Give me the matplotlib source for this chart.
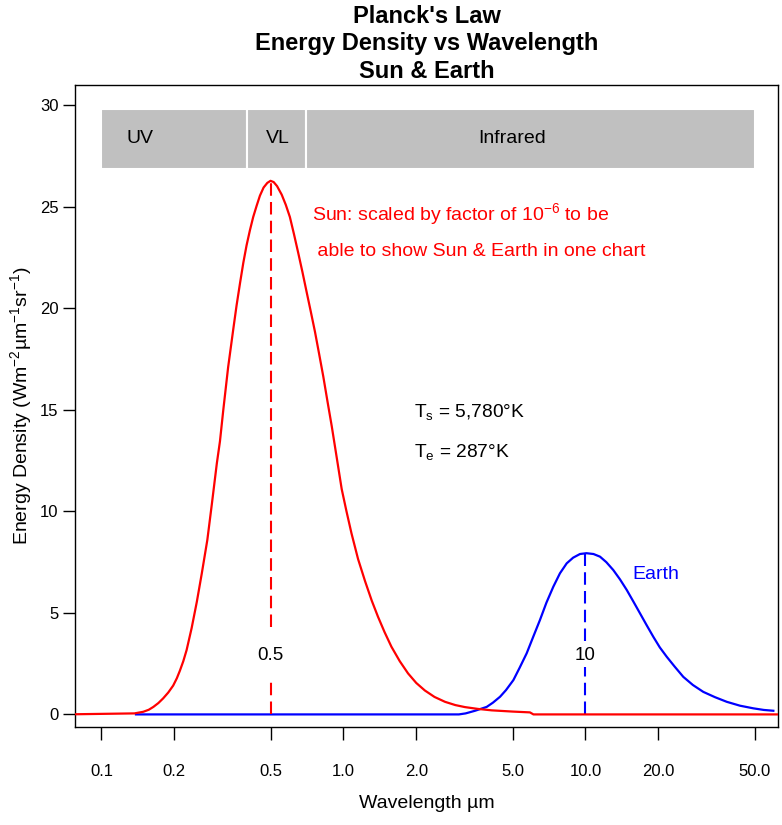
import matplotlib
matplotlib.use("Agg")
import matplotlib.pyplot as plt
from matplotlib.patches import Rectangle
from matplotlib.ticker import NullLocator

plt.rcParams['font.family'] = ['Liberation Sans', 'DejaVu Sans']
plt.rcParams['mathtext.fontset'] = 'custom'
plt.rcParams['mathtext.rm'] = 'Liberation Sans'
plt.rcParams['mathtext.it'] = 'Liberation Sans:italic'
plt.rcParams['mathtext.bf'] = 'Liberation Sans:bold'

# ---------------- data ----------------
sun_wl = [0.07, 0.137, 0.149, 0.157, 0.164, 0.172, 0.180, 0.189, 0.198, 0.205, 0.211,
          0.218, 0.225, 0.236, 0.248, 0.260, 0.274, 0.286, 0.300, 0.309, 0.319,
          0.334, 0.351, 0.362, 0.374, 0.386, 0.398, 0.411, 0.424, 0.438, 0.452,
          0.468, 0.485, 0.50, 0.515, 0.532, 0.556, 0.578, 0.601, 0.625, 0.651,
          0.677, 0.705, 0.733, 0.763, 0.794, 0.826, 0.860, 0.895, 0.940, 0.984,
          1.03, 1.08, 1.15, 1.23, 1.31, 1.39, 1.48, 1.58, 1.71, 1.85, 2.00, 2.17,
          2.38, 2.63, 2.90, 3.18, 3.60, 4.10, 5.0, 5.9, 6.1, 65]
sun_ed = [0, 0.05, 0.13, 0.23, 0.37, 0.56, 0.79, 1.08, 1.42, 1.78, 2.15,
          2.62, 3.17, 4.25, 5.55, 6.95, 8.59, 10.35, 12.37, 13.45, 15.0,
          17.1, 19.0, 20.15, 21.24, 22.25, 23.1, 23.85, 24.5, 25.05, 25.55,
          25.95, 26.18, 26.28, 26.22, 26.02, 25.6, 25.1, 24.5, 23.65, 22.72,
          21.8, 20.8, 19.85, 18.85, 17.75, 16.64, 15.4, 14.2, 12.6, 11.1,
          10.0, 8.92, 7.65, 6.55, 5.6, 4.81, 4.05, 3.33, 2.62, 2.02, 1.55, 1.18,
          0.86, 0.62, 0.46, 0.36, 0.27, 0.2, 0.14, 0.1, 0.0, 0.0]

earth_wl = [0.139, 3.0, 3.2, 3.5, 3.91, 4.15, 4.44, 4.7, 5.04, 5.35, 5.72, 6.1,
            6.49, 6.9, 7.37, 7.85, 8.37, 8.9, 9.50, 10.1, 10.8, 11.49, 12.2,
            13.04, 13.9, 14.82, 15.8, 16.81, 17.9, 19.09, 20.3, 21.68, 23.4,
            25.38, 27.8, 30.7, 34.3, 38.4, 43.5, 49.4, 54.6, 59.8]
earth_ed = [0, 0.0, 0.05, 0.18, 0.37, 0.58, 0.87, 1.2, 1.69, 2.3, 3.01, 3.85,
            4.65, 5.5, 6.29, 6.95, 7.44, 7.72, 7.90, 7.94, 7.9, 7.77, 7.5,
            7.11, 6.65, 6.13, 5.55, 4.98, 4.4, 3.82, 3.3, 2.84, 2.35,
            1.85, 1.45, 1.11, 0.85, 0.62, 0.43, 0.30, 0.22, 0.18]

peak_wl = [0.5, 10]
peak_val = [26.28, 7.94]
peak_labels = ['0.5', '10']
peak_gap_low = [1.85, 2.35]
peak_gap_high = [4.3, 3.6]
peak_colors = ['#ff0000', '#0000ff']

band_start = [0.1, 0.4, 0.7]
band_end = [0.4, 0.7, 50]
band_names = ['UV', 'VL', 'Infrared']
band_label_x = [0.145, 0.537, 5.0]

xticks = [0.1, 0.2, 0.5, 1, 2, 5, 10, 20, 50]
xtick_labels = ['0.1', '0.2', '0.5', '1.0', '2.0', '5.0', '10.0', '20.0', '50.0']
yticks = [0, 5, 10, 15, 20, 25, 30]

# ---------------- figure ----------------
W, H = 782, 825
fig = plt.figure(figsize=(W / 100, H / 100), dpi=100)
ax = fig.add_axes([75 / W, 1 - 727 / H, (778 - 75) / W, (727 - 85) / H])
ax.set_xscale('log')
ax.set_xlim(0.0778, 62.5)
ax.set_ylim(-0.62, 31.0)

# bands
for s, e, name, lx in zip(band_start, band_end, band_names, band_label_x):
    ax.add_patch(Rectangle((s, 26.88), e - s, 2.92, facecolor='#c0c0c0',
                           edgecolor='white', linewidth=1.5, zorder=1))
    ax.text(lx, 28.35, name, ha='center', va='center', fontsize=14, color='black', zorder=2)

# curves
ax.plot(earth_wl, earth_ed, color='#0000ff', linewidth=1.6, zorder=3)
ax.plot(sun_wl, sun_ed, color='#ff0000', linewidth=1.6, zorder=4)

# peak dashed lines with labels
for pw, pv, lab, gl, gh, c in zip(peak_wl, peak_val, peak_labels, peak_gap_low, peak_gap_high, peak_colors):
    ax.plot([pw, pw], [0, gl], color=c, linewidth=1.5, linestyle=(0, (6, 3)), zorder=3)
    ax.plot([pw, pw], [gh, pv], color=c, linewidth=1.5, linestyle=(0, (6, 3)), zorder=3)
    ax.text(pw, 2.92, lab, ha='center', va='center', fontsize=13.5, color='black', zorder=5)

# annotations
ax.text(0.742, 24.66, 'Sun: scaled by factor of 10$^{-6}$ to be', color='#ff0000',
        fontsize=14, ha='left', va='center')
ax.text(0.742, 22.79, ' able to show Sun & Earth in one chart', color='#ff0000',
        fontsize=14, ha='left', va='center')
ax.text(15.6, 6.88, 'Earth', color='#0000ff', fontsize=14, ha='left', va='center')
ax.text(1.95, 14.90, r'T$_{\mathrm{s}}$ = 5,780°K', color='black', fontsize=13.8,
        ha='left', va='center')
ax.text(1.95, 12.93, r'T$_{\mathrm{e}}$ = 287°K', color='black', fontsize=13.8,
        ha='left', va='center')

# axes styling
ax.set_xticks(xticks)
ax.set_xticklabels(xtick_labels)
ax.xaxis.set_minor_locator(NullLocator())
ax.set_yticks(yticks)
ax.tick_params(axis='x', direction='out', length=9, width=1, labelsize=12, pad=18)
ax.tick_params(axis='y', direction='out', length=9, width=1, labelsize=12, pad=3)
for sp in ax.spines.values():
    sp.set_linewidth(1.0)
    sp.set_color('black')

ax.set_xlabel('Wavelength µm', fontsize=14, labelpad=11)
ax.set_ylabel('Energy Density (Wm$^{-2}$µm$^{-1}$sr$^{-1}$)', fontsize=14, labelpad=4)

# title
cx = (75 + 778) / 2 / W
title_font = ['Liberation Sans Narrow', 'Liberation Sans', 'DejaVu Sans']
for txt, yy in zip(["Planck's Law", 'Energy Density vs Wavelength', 'Sun & Earth'], [23, 50, 78]):
    fig.text(cx, 1 - yy / H, txt, ha='center', va='baseline', fontsize=17,
             fontweight='bold', family=title_font)

fig.savefig('out.png', dpi=100)
